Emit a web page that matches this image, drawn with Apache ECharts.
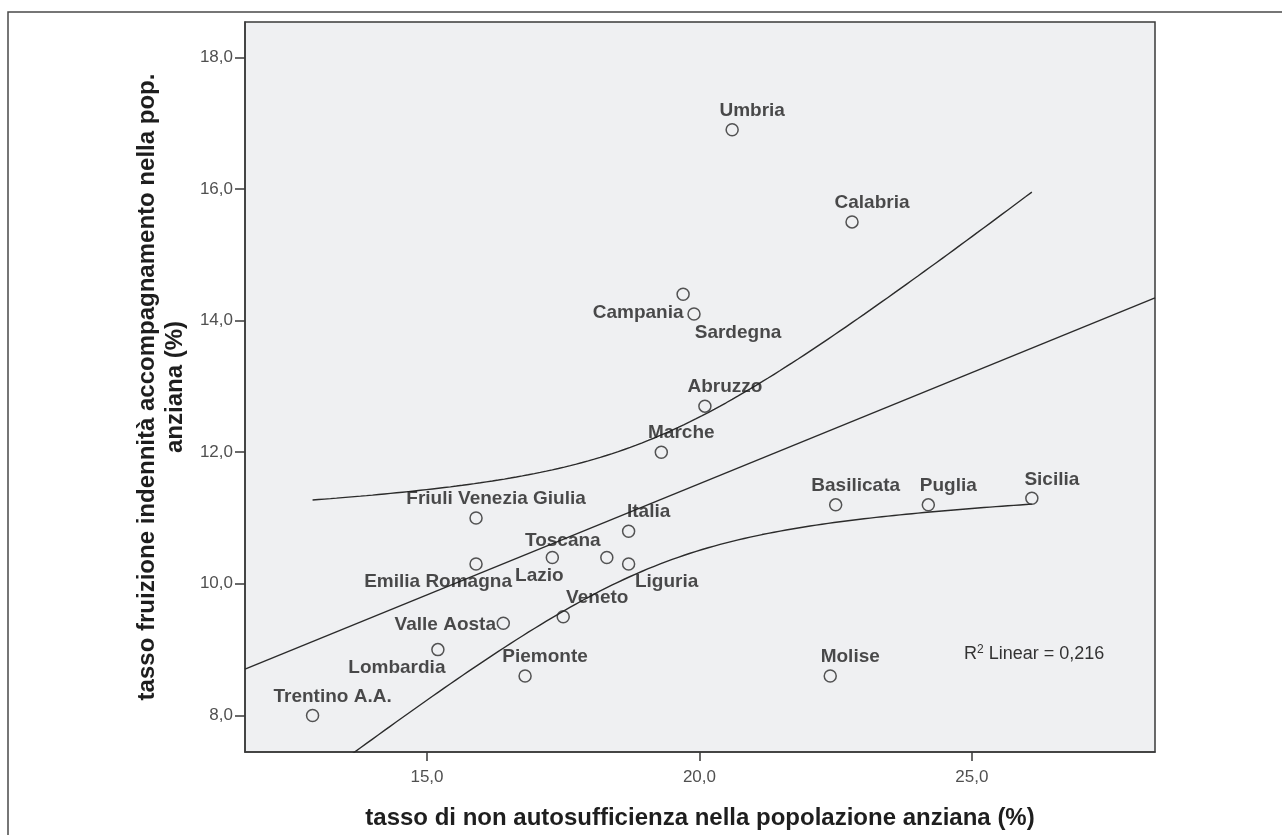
<!DOCTYPE html>
<html>
<head>
<meta charset="utf-8">
<script src="https://cdn.jsdelivr.net/npm/echarts@6/dist/echarts.min.js"></script>
<style>
  html, body { margin: 0; padding: 0; background: #ffffff; }
  #chart { width: 1282px; height: 835px; }
</style>
</head>
<body>
<div id="chart"></div>
<script>
// Regions (plus the national figure "Italia")
const regions = [
  'Trentino A.A.', 'Lombardia', 'Valle Aosta', 'Piemonte', 'Veneto',
  'Friuli Venezia Giulia', 'Emilia Romagna', 'Lazio', 'Toscana', 'Liguria',
  'Italia', 'Marche', 'Abruzzo', 'Campania', 'Sardegna', 'Umbria',
  'Calabria', 'Basilicata', 'Puglia', 'Sicilia', 'Molise'
];
// tasso di non autosufficienza nella popolazione anziana (%)
const nonAutosufficienza = [
  12.9, 15.2, 16.4, 16.8, 17.5,
  15.9, 15.9, 17.3, 18.3, 18.7,
  18.7, 19.3, 20.1, 19.7, 19.9, 20.6,
  22.8, 22.5, 24.2, 26.1, 22.4
];
// tasso fruizione indennità accompagnamento nella pop. anziana (%)
const indennita = [
  8.0, 9.0, 9.4, 8.6, 9.5,
  11.0, 10.3, 10.4, 10.4, 10.3,
  10.8, 12.0, 12.7, 14.4, 14.1, 16.9,
  15.5, 11.2, 11.2, 11.3, 8.6
];
const xTicks = [15, 20, 25];
const yTicks = [8, 10, 12, 14, 16, 18];

// axis extents
const X_MIN = 11.66, X_MAX = 28.36;
const Y_MIN = 7.444, Y_MAX = 18.538;

// label placement around each point (pixels, label centre relative to the marker)
const DEFAULT_LABEL_OFFSET = [20, -19];
const labelOffsets = {
  'Campania': [-45, 18],
  'Sardegna': [44, 19],
  'Lazio': [-13, 18],
  'Toscana': [-44, -17],
  'Emilia Romagna': [-38, 18],
  'Liguria': [38, 18],
  'Veneto': [34, -19],
  'Valle Aosta': [-58, 1],
  'Lombardia': [-41, 18]
};

// ordinary least squares fit with 95% confidence band for the mean
const n = nonAutosufficienza.length;
const meanX = nonAutosufficienza.reduce((a, b) => a + b, 0) / n;
const meanY = indennita.reduce((a, b) => a + b, 0) / n;
let sxx = 0, sxy = 0, syy = 0;
for (let i = 0; i < n; i++) {
  const dx = nonAutosufficienza[i] - meanX, dy = indennita[i] - meanY;
  sxx += dx * dx; sxy += dx * dy; syy += dy * dy;
}
const slope = sxy / sxx;
const intercept = meanY - slope * meanX;
const rSquared = (sxy * sxy) / (sxx * syy);
const sResid = Math.sqrt((syy - slope * sxy) / (n - 2));
const T_CRIT = 2.093; // two-sided 95% Student t quantile, 19 degrees of freedom

const fitLine = [[X_MIN, intercept + slope * X_MIN], [X_MAX, intercept + slope * X_MAX]];
const dataMinX = Math.min(...nonAutosufficienza);
const dataMaxX = Math.max(...nonAutosufficienza);
const upperBand = [], lowerBand = [];
const STEPS = 120;
for (let k = 0; k <= STEPS; k++) {
  const x = dataMinX + (dataMaxX - dataMinX) * k / STEPS;
  const yHat = intercept + slope * x;
  const half = T_CRIT * sResid * Math.sqrt(1 / n + (x - meanX) * (x - meanX) / sxx);
  upperBand.push([x, yHat + half]);
  lowerBand.push([x, yHat - half]);
}

const FONT = "'Liberation Sans', Arial, Helvetica, sans-serif";
const comma = v => v.toFixed(1).replace('.', ',');

const points = regions.map((name, i) => ({
  name: name,
  value: [nonAutosufficienza[i], indennita[i]],
  label: { offset: labelOffsets[name] || DEFAULT_LABEL_OFFSET }
}));

const lineStyle = { color: '#2b2b2b', width: 1.4 };

const chart = echarts.init(document.getElementById('chart'), null, { renderer: 'canvas' });
chart.setOption({
  animation: false,
  backgroundColor: '#ffffff',
  grid: {
    left: 245, top: 22, right: 127, bottom: 81,
    show: true,
    backgroundColor: '#eff0f2',
    borderColor: '#3a3a3a',
    borderWidth: 1.5
  },
  xAxis: {
    type: 'value',
    min: X_MIN, max: X_MAX,
    name: 'tasso di non autosufficienza nella popolazione anziana (%)',
    nameLocation: 'middle',
    nameGap: 54,
    nameTextStyle: { fontFamily: FONT, fontSize: 24, fontWeight: 'bold', color: '#1e1e1e' },
    axisLine: { show: true, lineStyle: { color: '#3a3a3a', width: 1.5 } },
    axisTick: { show: true, length: 9, customValues: xTicks, lineStyle: { color: '#3a3a3a', width: 1.5 } },
    axisLabel: { customValues: xTicks, margin: 17, formatter: comma, fontFamily: FONT, fontSize: 17, color: '#505050' },
    splitLine: { show: false }
  },
  yAxis: {
    type: 'value',
    min: Y_MIN, max: Y_MAX,
    name: 'tasso fruizione indennità accompagnamento nella pop.\nanziana (%)',
    nameLocation: 'middle',
    nameRotate: 90,
    nameGap: 45,
    nameTextStyle: { fontFamily: FONT, fontSize: 24, fontWeight: 'bold', color: '#1e1e1e', lineHeight: 28, align: 'center' },
    axisLine: { show: true, lineStyle: { color: '#3a3a3a', width: 1.5 } },
    axisTick: { show: true, length: 10, customValues: yTicks, lineStyle: { color: '#3a3a3a', width: 1.5 } },
    axisLabel: { customValues: yTicks, margin: 12, formatter: comma, fontFamily: FONT, fontSize: 17, color: '#505050' },
    splitLine: { show: false }
  },
  series: [
    { type: 'line', data: fitLine, symbol: 'none', lineStyle: lineStyle, silent: true, z: 2 },
    { type: 'line', data: upperBand, symbol: 'none', lineStyle: lineStyle, silent: true, z: 2 },
    { type: 'line', data: lowerBand, symbol: 'none', lineStyle: lineStyle, silent: true, z: 2 },
    {
      type: 'scatter',
      data: points,
      symbol: 'circle',
      symbolSize: 12,
      itemStyle: { color: 'rgba(0,0,0,0)', borderColor: '#2b2b2b', borderWidth: 1.5 },
      label: {
        show: true,
        formatter: '{b}',
        position: 'inside',
        align: 'center',
        verticalAlign: 'middle',
        fontFamily: FONT,
        fontSize: 19,
        fontWeight: 'bold',
        color: '#1e1e1e'
      },
      z: 3
    }
  ],
  graphic: [
    {
      type: 'rect',
      shape: { x: 8, y: 12, width: 1400, height: 900 },
      style: { fill: 'none', stroke: '#4a4a4a', lineWidth: 1.5 },
      silent: true
    },
    {
      type: 'text',
      x: 964, y: 654,
      style: {
        text: 'R{sup|2} Linear = ' + rSquared.toFixed(3).replace('.', ','),
        fontFamily: FONT,
        fontSize: 18,
        fill: '#333333',
        verticalAlign: 'middle',
        rich: { sup: { fontSize: 12, verticalAlign: 'top', padding: [0, 0, 8, 0], fontFamily: FONT, fill: '#333333' } }
      },
      silent: true
    }
  ]
});
</script>
</body>
</html>
